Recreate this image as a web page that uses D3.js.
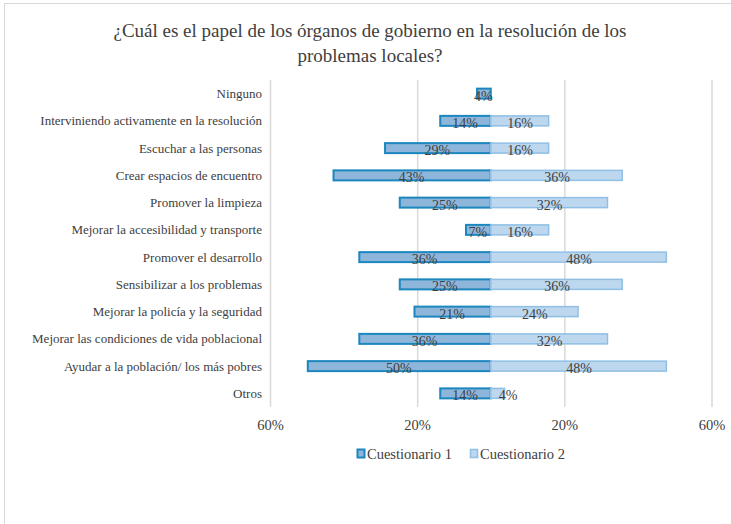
<!DOCTYPE html>
<html>
<head>
<meta charset="utf-8">
<script src="https://cdn.jsdelivr.net/npm/d3@7"></script>
<style>
  body { margin: 0; background: #fff; }
  svg text { fill: #404040; }
</style>
</head>
<body>
<div id="chart"></div>
<script>
// DATA
const categories = [
  "Ninguno",
  "Interviniendo activamente en la resolución",
  "Escuchar a las personas",
  "Crear espacios de encuentro",
  "Promover la limpieza",
  "Mejorar la accesibilidad y transporte",
  "Promover el desarrollo",
  "Sensibilizar a los problemas",
  "Mejorar la policía y la seguridad",
  "Mejorar las condiciones de vida poblacional",
  "Ayudar a la población/ los más pobres",
  "Otros"
];
const cuestionario1 = [4, 14, 29, 43, 25, 7, 36, 25, 21, 36, 50, 14];
const cuestionario2 = [null, 16, 16, 36, 32, 16, 48, 36, 24, 32, 48, 4];
const seriesNames = ["Cuestionario 1", "Cuestionario 2"];
const tickValues = [-60, -20, 20, 60];

const width = 731, height = 524;
const serif = "'Times New Roman', Times, 'Liberation Serif', 'Nimbus Roman', FreeSerif, 'Noto Serif', 'DejaVu Serif', serif";
const plot = { left: 270, right: 711.5, top: 80, bottom: 407 };
const colors = {
  q1: { fill: "#8eb6da", stroke: "#1c86bf" },
  q2: { fill: "#bdd7ee", stroke: "#8fbfe4" }
};

const svg = d3.select("#chart").append("svg")
  .attr("width", width)
  .attr("height", height)
  .style("font-family", serif);

// chart frame (only top and left edges are visible)
svg.append("rect")
  .attr("x", 4.5).attr("y", 3.5)
  .attr("width", width + 10).attr("height", height + 10)
  .attr("fill", "none")
  .attr("stroke", "#d9d9d9");

// title
const title = svg.append("text")
  .attr("text-anchor", "middle")
  .attr("font-size", 19);
title.append("tspan").attr("x", 370).attr("y", 37)
  .text("¿Cuál es el papel de los órganos de gobierno en la resolución de los");
title.append("tspan").attr("x", 370).attr("y", 62)
  .text("problemas locales?");

// SCALES
const x = d3.scaleLinear().domain([-60, 60]).range([plot.left, plot.right]);
const y = d3.scaleBand().domain(categories).range([plot.top, plot.bottom])
  .paddingInner(0.56).paddingOuter(0.28);

// gridlines
svg.append("g")
  .attr("transform", `translate(0,${plot.bottom})`)
  .call(d3.axisBottom(x).tickValues(tickValues).tickSize(-(plot.bottom - plot.top)).tickFormat(""))
  .call(g => g.select(".domain").remove())
  .call(g => g.selectAll("line").attr("stroke", "#d9d9d9").attr("stroke-width", 1.5));

// x tick labels
svg.append("g")
  .attr("transform", `translate(0,${plot.bottom})`)
  .call(d3.axisBottom(x).tickValues(tickValues).tickSize(0).tickPadding(13)
    .tickFormat(d => Math.abs(d) + "%"))
  .call(g => g.attr("font-family", null).attr("font-size", 14.5))
  .call(g => g.select(".domain").remove())
  .call(g => g.selectAll("text").attr("fill", "#404040"));

// category labels
svg.append("g")
  .selectAll("text")
  .data(categories)
  .join("text")
  .attr("x", 262)
  .attr("y", d => y(d) + y.bandwidth() / 2 + 4.5)
  .attr("text-anchor", "end")
  .attr("font-size", 13)
  .text(d => d);

const rows = categories.map((c, i) => ({ cat: c, q1: cuestionario1[i], q2: cuestionario2[i] }));

// Cuestionario 1 bars (to the left)
svg.append("g")
  .selectAll("rect")
  .data(rows.filter(d => d.q1 != null))
  .join("rect")
  .attr("x", d => x(-d.q1) + 1)
  .attr("y", d => y(d.cat) + 1)
  .attr("width", d => x(0) - x(-d.q1) - 1)
  .attr("height", y.bandwidth() - 2)
  .attr("fill", colors.q1.fill)
  .attr("stroke", colors.q1.stroke)
  .attr("stroke-width", 2);

// Cuestionario 2 bars (to the right)
svg.append("g")
  .selectAll("rect")
  .data(rows.filter(d => d.q2 != null))
  .join("rect")
  .attr("x", x(0))
  .attr("y", d => y(d.cat) + 1)
  .attr("width", d => x(d.q2) - x(0) - 1)
  .attr("height", y.bandwidth() - 2)
  .attr("fill", colors.q2.fill)
  .attr("stroke", colors.q2.stroke)
  .attr("stroke-width", 1.5);

// data labels
const labels = svg.append("g").attr("font-size", 14).attr("text-anchor", "middle");
labels.selectAll(".l1")
  .data(rows.filter(d => d.q1 != null))
  .join("text")
  .attr("class", "l1")
  .attr("x", d => (x(-d.q1) + x(0)) / 2)
  .attr("y", d => y(d.cat) + y.bandwidth() / 2 + 7)
  .text(d => d.q1 + "%");
labels.selectAll(".l2")
  .data(rows.filter(d => d.q2 != null))
  .join("text")
  .attr("class", "l2")
  .attr("x", d => d.q2 < 6 ? x(d.q2) + 2.5 : (x(0) + x(d.q2)) / 2)
  .attr("y", d => y(d.cat) + y.bandwidth() / 2 + 7)
  .text(d => d.q2 + "%");

// legend
const legend = svg.append("g").attr("transform", "translate(357,449)");
seriesNames.forEach((name, i) => {
  const c = i === 0 ? colors.q1 : colors.q2;
  const g = legend.append("g").attr("transform", `translate(${i * 113},0)`);
  g.append("rect")
    .attr("x", 0.5).attr("y", 0.5)
    .attr("width", 7).attr("height", 8)
    .attr("fill", c.fill)
    .attr("stroke", c.stroke)
    .attr("stroke-width", i === 0 ? 2 : 1.5);
  g.append("text")
    .attr("x", 10).attr("y", 10)
    .attr("font-size", 14.5)
    .text(name);
});
</script>
</body>
</html>
